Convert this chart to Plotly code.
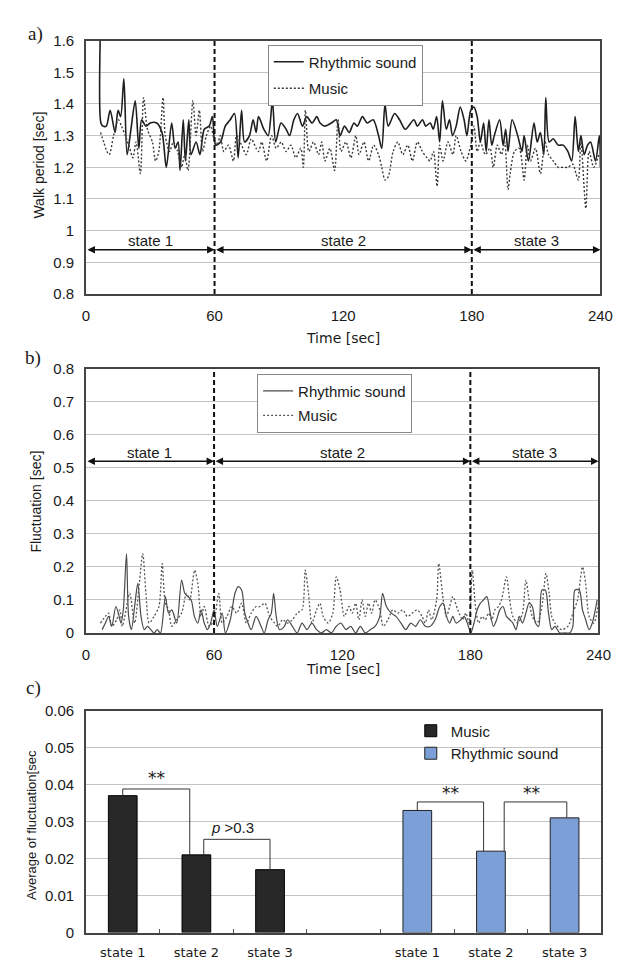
import plotly.graph_objects as go

# ---------------- data ----------------
series_names = ["Rhythmic sound", "Music"]
states = ["state 1", "state 2", "state 3"]
state_bounds = [0, 60, 180, 240]

# a) walk period [sec]
walk_rhythm_t = [6.7, 7.0, 8.0, 9.5, 11.3, 13.6, 15.0, 16.2, 17.7, 19.2, 21.0, 23.0, 24.7, 26.0, 28.0, 30.0, 33.0, 35.5, 37.5, 40.0,
                 41.6, 43.0, 43.9, 45.4, 46.4, 48.0, 49.0, 51.4, 53.2, 55.2, 57.5, 59.0, 60.5, 62.8, 65.0, 67.3, 69.3, 71.0, 72.6, 74.0,
                 76.3, 78.0, 79.4, 80.5, 83.0, 85.0, 87.0, 88.5, 91.0, 93.4, 95.0, 97.0, 98.7, 101.0, 103.0, 105.5, 107.7, 109.2, 111.5, 114.5,
                 116.8, 118.6, 120.6, 122.8, 125.0, 126.6, 129.0, 131.2, 134.0, 136.5, 138.0, 139.5, 141.0, 144.0, 146.3, 149.0, 153.0, 154.6, 157.0, 158.5,
                 160.6, 162.0, 163.6, 165.0, 166.3, 168.1, 169.6, 171.0, 172.7, 174.6, 176.4, 177.7, 179.5, 181.0, 182.5, 184.0, 185.5, 186.7, 188.0, 189.3,
                 190.5, 193.0, 194.6, 195.8, 196.9, 198.8, 201.4, 203.4, 204.4, 206.4, 209.0, 210.5, 212.0, 213.6, 214.5, 216.1, 218.0, 220.3, 222.6, 224.8,
                 226.6, 228.2, 229.7, 230.9, 232.4, 234.0, 235.4, 237.7, 239.5, 240.0]
walk_rhythm_v = [1.62, 1.34, 1.33, 1.33, 1.38, 1.31, 1.38, 1.36, 1.48, 1.24, 1.32, 1.41, 1.26, 1.35, 1.33, 1.34, 1.34, 1.31, 1.20, 1.34,
                 1.26, 1.28, 1.19, 1.35, 1.22, 1.35, 1.24, 1.28, 1.24, 1.32, 1.33, 1.36, 1.27, 1.28, 1.33, 1.35, 1.37, 1.23, 1.38, 1.28,
                 1.30, 1.35, 1.31, 1.36, 1.32, 1.30, 1.41, 1.28, 1.34, 1.32, 1.30, 1.35, 1.37, 1.33, 1.36, 1.34, 1.36, 1.34, 1.33, 1.34,
                 1.35, 1.30, 1.33, 1.31, 1.34, 1.33, 1.36, 1.34, 1.35, 1.30, 1.26, 1.40, 1.33, 1.37, 1.35, 1.32, 1.35, 1.33, 1.35, 1.33,
                 1.34, 1.32, 1.36, 1.28, 1.41, 1.32, 1.35, 1.30, 1.33, 1.39, 1.35, 1.30, 1.38, 1.39, 1.36, 1.28, 1.34, 1.25, 1.35, 1.27,
                 1.30, 1.35, 1.27, 1.32, 1.25, 1.35, 1.30, 1.25, 1.30, 1.22, 1.34, 1.28, 1.31, 1.24, 1.42, 1.28, 1.29, 1.27, 1.27, 1.25,
                 1.22, 1.36, 1.25, 1.30, 1.24, 1.27, 1.28, 1.22, 1.30, 1.20]

walk_music_t = [6.8, 8.3, 9.8, 10.9, 12.9, 15.1, 16.6, 18.4, 20.4, 21.9, 23.4, 25.4, 26.9, 28.7, 31.0, 32.5, 34.0, 36.0, 37.0, 39.0,
                40.8, 42.8, 44.6, 46.1, 47.6, 49.9, 51.4, 52.9, 54.4, 56.2, 58.2, 59.7, 61.2, 62.7, 64.3, 66.5, 68.8, 70.3, 72.6, 74.8,
                77.1, 79.4, 80.5, 82.0, 84.3, 86.6, 88.8, 91.1, 93.4, 95.6, 97.9, 100.2, 101.4, 102.4, 104.0, 106.2, 108.5, 110.0, 111.5, 113.8,
                116.0, 117.6, 119.0, 121.3, 123.6, 125.9, 127.4, 129.7, 131.9, 134.2, 136.5, 138.0, 139.5, 141.0, 143.3, 145.5, 147.8, 150.1, 152.3, 154.6,
                156.9, 159.1, 160.5, 162.1, 163.8, 165.0, 166.6, 168.9, 171.2, 172.7, 175.0, 177.2, 179.5, 181.0, 182.5, 184.0, 186.3, 188.5, 190.0, 191.9,
                193.8, 195.3, 196.9, 197.9, 199.9, 202.1, 204.4, 205.9, 207.4, 209.7, 212.0, 214.2, 215.8, 218.0, 220.3, 222.6, 224.8, 227.1, 228.6, 229.7,
                230.9, 233.2, 234.7, 236.9, 239.2]
walk_music_v = [1.31, 1.28, 1.25, 1.24, 1.30, 1.35, 1.33, 1.30, 1.26, 1.23, 1.28, 1.18, 1.42, 1.32, 1.28, 1.22, 1.25, 1.42, 1.30, 1.25,
                1.28, 1.25, 1.20, 1.24, 1.19, 1.41, 1.30, 1.38, 1.25, 1.30, 1.33, 1.29, 1.27, 1.30, 1.25, 1.27, 1.22, 1.30, 1.27, 1.24,
                1.29, 1.26, 1.25, 1.28, 1.22, 1.30, 1.26, 1.28, 1.25, 1.27, 1.23, 1.26, 1.20, 1.38, 1.25, 1.28, 1.24, 1.28, 1.22, 1.26,
                1.19, 1.35, 1.25, 1.28, 1.23, 1.30, 1.24, 1.28, 1.22, 1.27, 1.24, 1.20, 1.16, 1.17, 1.25, 1.28, 1.24, 1.27, 1.22, 1.28,
                1.25, 1.23, 1.22, 1.25, 1.14, 1.27, 1.22, 1.28, 1.24, 1.30, 1.25, 1.22, 1.27, 1.33, 1.25, 1.28, 1.24, 1.26, 1.20, 1.27,
                1.24, 1.28, 1.13, 1.18, 1.25, 1.26, 1.16, 1.27, 1.22, 1.26, 1.18, 1.28, 1.24, 1.22, 1.20, 1.20, 1.20, 1.21, 1.18, 1.16,
                1.28, 1.07, 1.25, 1.20, 1.24]

# b) fluctuation [sec]
fluc_rhythm_t = [7.6, 9.1, 10.6, 12.1, 14.0, 15.2, 16.4, 17.5, 19.0, 20.0, 21.3, 22.8, 24.3, 25.8, 27.3, 28.8, 30.4, 31.9, 33.4, 34.9,
                 37.2, 38.7, 40.2, 42.5, 44.8, 46.3, 47.8, 49.3, 50.8, 52.4, 53.9, 55.4, 56.9, 58.4, 60.0, 61.5, 63.8, 65.3, 67.6, 69.8,
                 71.3, 72.9, 74.4, 75.9, 77.4, 79.7, 82.0, 83.5, 85.3, 86.8, 87.9, 89.1, 90.6, 92.9, 94.4, 96.7, 98.9, 101.2, 103.5, 105.8,
                 108.0, 110.3, 112.6, 114.9, 117.2, 119.4, 121.7, 124.0, 126.3, 128.5, 130.8, 133.1, 135.4, 137.6, 138.9, 140.7, 143.0, 145.2, 147.5, 149.8,
                 152.1, 154.3, 156.6, 158.9, 161.2, 163.5, 165.7, 167.3, 168.8, 170.3, 171.8, 173.3, 175.6, 177.1, 178.6, 180.2, 181.7, 183.2, 184.7, 186.2,
                 187.7, 189.3, 190.8, 192.3, 193.8, 195.3, 196.9, 198.4, 199.9, 201.4, 202.9, 204.4, 206.0, 207.5, 209.0, 210.5, 212.0, 213.5, 215.1, 216.6,
                 218.1, 219.6, 221.9, 224.2, 226.5, 228.0, 229.0, 231.0, 232.5, 234.0, 235.6, 237.1, 239.4]
fluc_rhythm_v = [0.01, 0.03, 0.05, 0.02, 0.08, 0.06, 0.03, 0.07, 0.24, 0.05, 0.01, 0.08, 0.15, 0.05, 0.01, 0.02, 0.01, 0.00, 0.01, 0.00,
                 0.11, 0.06, 0.07, 0.03, 0.16, 0.12, 0.11, 0.10, 0.05, 0.03, 0.07, 0.03, 0.01, 0.03, 0.07, 0.02, 0.06, 0.00, 0.04, 0.12,
                 0.14, 0.13, 0.06, 0.03, 0.01, 0.05, 0.02, 0.00, 0.04, 0.06, 0.12, 0.05, 0.01, 0.02, 0.04, 0.02, 0.00, 0.03, 0.01, 0.03,
                 0.01, 0.00, 0.01, 0.00, 0.02, 0.03, 0.01, 0.02, 0.00, 0.02, 0.00, 0.01, 0.02, 0.05, 0.12, 0.08, 0.06, 0.05, 0.03, 0.01,
                 0.03, 0.02, 0.04, 0.02, 0.02, 0.04, 0.08, 0.09, 0.05, 0.03, 0.05, 0.03, 0.04, 0.05, 0.03, 0.00, 0.03, 0.07, 0.09, 0.10,
                 0.11, 0.06, 0.02, 0.04, 0.07, 0.08, 0.05, 0.04, 0.03, 0.01, 0.05, 0.03, 0.06, 0.09, 0.08, 0.03, 0.02, 0.13, 0.13, 0.06,
                 0.01, 0.02, 0.00, 0.00, 0.00, 0.02, 0.13, 0.13, 0.07, 0.04, 0.01, 0.03, 0.10]

fluc_music_t = [6.8, 9.1, 10.6, 12.1, 14.4, 15.9, 17.0, 18.2, 20.5, 22.8, 25.0, 26.6, 28.1, 29.6, 31.9, 34.2, 35.7, 37.2, 38.7, 40.2,
                42.5, 44.8, 47.1, 48.6, 50.9, 52.4, 53.9, 55.4, 57.7, 60.0, 62.2, 63.8, 66.0, 68.3, 70.6, 72.9, 75.1, 77.4, 79.7, 81.5,
                83.8, 86.0, 88.3, 89.8, 92.1, 94.4, 96.7, 98.9, 101.2, 102.7, 104.2, 105.8, 108.0, 109.6, 111.1, 113.4, 115.6, 117.2, 119.0, 121.0,
                123.2, 124.7, 126.3, 127.8, 129.3, 130.8, 132.3, 133.8, 135.4, 137.6, 139.2, 141.4, 143.7, 146.0, 148.3, 150.5, 152.8, 155.1, 157.4, 158.9,
                160.4, 161.9, 164.2, 165.2, 167.3, 168.8, 170.3, 171.8, 174.1, 176.4, 177.9, 179.4, 180.9, 182.4, 183.9, 185.5, 187.0, 188.5, 190.0, 191.5,
                193.1, 194.6, 196.9, 198.4, 199.9, 202.2, 204.4, 206.0, 207.5, 209.0, 211.3, 213.5, 215.4, 216.9, 218.1, 219.6, 222.7, 225.7, 228.0, 230.2,
                232.5, 234.0, 235.6, 237.8, 240.0]
fluc_music_v = [0.03, 0.05, 0.06, 0.02, 0.04, 0.07, 0.02, 0.05, 0.12, 0.03, 0.15, 0.24, 0.12, 0.03, 0.05, 0.08, 0.21, 0.09, 0.07, 0.02,
                0.04, 0.06, 0.12, 0.10, 0.19, 0.15, 0.05, 0.08, 0.02, 0.04, 0.12, 0.03, 0.05, 0.08, 0.06, 0.09, 0.03, 0.06, 0.08, 0.08,
                0.09, 0.05, 0.03, 0.02, 0.04, 0.03, 0.04, 0.06, 0.07, 0.19, 0.12, 0.03, 0.07, 0.09, 0.05, 0.03, 0.06, 0.17, 0.13, 0.05,
                0.08, 0.06, 0.09, 0.04, 0.10, 0.05, 0.09, 0.06, 0.10, 0.07, 0.02, 0.04, 0.07, 0.06, 0.07, 0.05, 0.06, 0.07, 0.05, 0.03,
                0.07, 0.04, 0.10, 0.21, 0.10, 0.05, 0.08, 0.11, 0.07, 0.04, 0.06, 0.03, 0.19, 0.08, 0.03, 0.05, 0.04, 0.06, 0.04, 0.07,
                0.08, 0.10, 0.17, 0.10, 0.05, 0.03, 0.06, 0.16, 0.10, 0.05, 0.03, 0.08, 0.18, 0.12, 0.05, 0.03, 0.01, 0.02, 0.06, 0.10,
                0.20, 0.15, 0.05, 0.03, 0.09]

# c) average of fluctuation [sec]
bar_names = ["Music", "Rhythmic sound"]
music_avg = [0.037, 0.021, 0.017]
rhythm_avg = [0.033, 0.022, 0.031]
# significance brackets: (x_left, x_right, y_top, y_left_end, y_right_end, label, label_x, label_y)
brackets = [
    (0.0, 0.91, 0.0388, 0.037, 0.021, "**", 0.46, 0.0418),
    (1.1, 2.0, 0.0252, 0.021, 0.017, "<i>p</i> >0.3", 1.49, 0.0284),
    (4.0, 4.9, 0.0353, 0.033, 0.022, "**", 4.45, 0.0378),
    (5.18, 6.03, 0.0353, 0.022, 0.031, "**", 5.55, 0.0378),
]

walk_ticks = [0.8, 0.9, 1.0, 1.1, 1.2, 1.3, 1.4, 1.5, 1.6]
walk_ticktext = ["0.8", "0.9", "1", "1.1", "1.2", "1.3", "1.4", "1.5", "1.6"]
fluc_ticks = [0, 0.1, 0.2, 0.3, 0.4, 0.5, 0.6, 0.7, 0.8]
fluc_ticktext = ["0", "0.1", "0.2", "0.3", "0.4", "0.5", "0.6", "0.7", "0.8"]
avg_ticks = [0, 0.01, 0.02, 0.03, 0.04, 0.05, 0.06]
avg_ticktext = ["0", "0.01", "0.02", "0.03", "0.04", "0.05", "0.06"]
time_ticks = [0, 60, 120, 180, 240]

# ---------------- figure ----------------
FW, FH = 621, 964
FONT = "Liberation Sans"
TXT = "#1a1a1a"


def fx(x):
    """pixel x -> paper fraction"""
    return x / FW


def fy(y):
    """pixel y (from top) -> paper fraction"""
    return 1 - y / FH


fig = go.Figure()

# panel a
fig.add_trace(go.Scatter(x=walk_rhythm_t, y=walk_rhythm_v, xaxis="x", yaxis="y", mode="lines",
                         name=series_names[0], legend="legend", legendgroup="a1",
                         line=dict(color="#1e1e1e", width=1.6, shape="spline", smoothing=0.8)))
fig.add_trace(go.Scatter(x=walk_music_t, y=walk_music_v, xaxis="x", yaxis="y", mode="lines",
                         name=series_names[1], legend="legend", legendgroup="a2",
                         line=dict(color="#3a3a3a", width=1.4, dash="2px,2px", shape="spline", smoothing=0.8)))
# panel b
fig.add_trace(go.Scatter(x=fluc_rhythm_t, y=fluc_rhythm_v, xaxis="x2", yaxis="y2", mode="lines",
                         name=series_names[0], legend="legend2", legendgroup="b1",
                         line=dict(color="#4a4a4a", width=1.2, shape="spline", smoothing=0.8)))
fig.add_trace(go.Scatter(x=fluc_music_t, y=fluc_music_v, xaxis="x2", yaxis="y2", mode="lines",
                         name=series_names[1], legend="legend2", legendgroup="b2",
                         line=dict(color="#555555", width=1.3, dash="2px,2px", shape="spline", smoothing=0.8)))
# panel c
music_x = list(range(len(music_avg)))
rhythm_x = [len(music_avg) + 1 + i for i in range(len(rhythm_avg))]
fig.add_trace(go.Bar(x=music_x, y=music_avg, xaxis="x3", yaxis="y3", width=0.39, name=bar_names[0],
                     legend="legend3", legendgroup="c1",
                     marker=dict(color="#282828", line=dict(color="#000000", width=1))))
fig.add_trace(go.Bar(x=rhythm_x, y=rhythm_avg, xaxis="x3", yaxis="y3", width=0.39, name=bar_names[1],
                     legend="legend3", legendgroup="c2",
                     marker=dict(color="#7c9fd7", line=dict(color="#222222", width=1))))

axis_common = dict(showline=True, mirror=True, linecolor="#444444", linewidth=1.5, zeroline=False,
                   ticks="", ticklabeloverflow="allow", tickfont=dict(family=FONT, size=15, color=TXT))

fig.update_layout(
    width=FW, height=FH, margin=dict(l=0, r=0, t=0, b=0),
    paper_bgcolor="white", plot_bgcolor="white", barmode="overlay",
    font=dict(family=FONT, color=TXT),
    xaxis=dict(domain=[fx(76), fx(605)], range=[0, 240], tickvals=time_ticks, showgrid=False, anchor="y",
               ticklabelstandoff=7, **axis_common),
    yaxis=dict(domain=[fy(282), fy(24)], range=[0.8, 1.6], tickvals=walk_ticks, ticktext=walk_ticktext,
               showgrid=True, gridcolor="#c4c4c4", gridwidth=1, anchor="x", ticklabelstandoff=7, **axis_common),
    xaxis2=dict(domain=[fx(76), fx(603)], range=[0, 240], tickvals=time_ticks, showgrid=False, anchor="y2",
                ticklabelstandoff=7, **axis_common),
    yaxis2=dict(domain=[fy(627), fy(358)], range=[0, 0.8], tickvals=fluc_ticks, ticktext=fluc_ticktext,
                showgrid=True, gridcolor="#c4c4c4", gridwidth=1, anchor="x2", ticklabelstandoff=7, **axis_common),
    xaxis3=dict(domain=[fx(76), fx(606)], range=[-0.5, 6.5], tickvals=music_x + rhythm_x, ticktext=states + states,
                showgrid=False, anchor="y3", ticklabelstandoff=7,
                minor=dict(tickvals=[i + 0.5 for i in range(6)], ticks="inside", ticklen=4,
                           tickcolor="#555555", showgrid=False),
                **{**axis_common, "tickfont": dict(family="DejaVu Sans", size=13, color=TXT)}),
    yaxis3=dict(domain=[fy(932), fy(706)], range=[0, 0.06], tickvals=avg_ticks, ticktext=avg_ticktext,
                showgrid=True, gridcolor="#c4c4c4", gridwidth=1, anchor="x3", ticklabelstandoff=7, **axis_common),
    legend=dict(x=fx(263), y=fy(28), xanchor="left", yanchor="top", bgcolor="white",
                bordercolor="#888888", borderwidth=1, font=dict(family=FONT, size=15, color=TXT),
                tracegroupgap=4),
    legend2=dict(x=fx(252), y=fy(363), xanchor="left", yanchor="top", bgcolor="white",
                 bordercolor="#888888", borderwidth=1, font=dict(family=FONT, size=15, color=TXT),
                 tracegroupgap=2),
    legend3=dict(x=fx(410), y=fy(710), xanchor="left", yanchor="top", bgcolor="rgba(0,0,0,0)",
                 borderwidth=0, font=dict(family=FONT, size=15, color=TXT), tracegroupgap=0),
)

shapes = []
annotations = []

# dashed state boundaries and state arrows for panels a and b
for xr, yr, arrow_y, label_y in [("x", "y", 0.94, 0.968), ("x2", "y2", 0.52, 0.547)]:
    for b in state_bounds[1:-1]:
        shapes.append(dict(type="line", xref=xr, yref=yr + " domain", x0=b, x1=b, y0=0, y1=1,
                           line=dict(color="#111111", width=2, dash="5px,3px")))
    for i, name in enumerate(states):
        x0, x1 = state_bounds[i], state_bounds[i + 1]
        annotations.append(dict(xref=xr, yref=yr, axref=xr, ayref=yr, x=x1, y=arrow_y, ax=x0, ay=arrow_y,
                                text="", showarrow=True, arrowhead=2, arrowside="end+start",
                                arrowsize=1, arrowwidth=1.5, arrowcolor="#111111"))
        annotations.append(dict(xref=xr, yref=yr, x=(x0 + x1) / 2, y=label_y, text=name, showarrow=False,
                                font=dict(family=FONT, size=15, color=TXT)))

# significance brackets in panel c
for xl, xrr, yt, yl, yrr, lab, lx, ly in brackets:
    shapes.append(dict(type="path", xref="x3", yref="y3",
                       path=f"M {xl},{yl} L {xl},{yt} L {xrr},{yt} L {xrr},{yrr}",
                       line=dict(color="#333333", width=1)))
    star = lab == "**"
    annotations.append(dict(xref="x3", yref="y3", x=lx, y=ly, text=lab, showarrow=False,
                            font=dict(family="DejaVu Sans" if star else FONT, size=17 if star else 15,
                                      color=TXT)))


# axis titles and panel labels
def ptext(x, y, text, size=14, angle=0, family=FONT):
    annotations.append(dict(xref="paper", yref="paper", x=fx(x), y=fy(y), text=text, showarrow=False,
                            textangle=angle, xanchor="center", yanchor="middle",
                            font=dict(family=family, size=size, color=TXT)))


ptext(28, 151, "Walk period [sec]", 14, -90)
ptext(340, 327, "Time [sec]", 14, 0, "DejaVu Sans")
ptext(25, 493, "Fluctuation [sec]", 14, -90)
ptext(340, 664, "Time [sec]", 14, 0, "DejaVu Sans")
ptext(20, 822, "Average of fluctuation[sec", 13, -90)
ptext(24, 17, "a)", 19, 0, "Liberation Serif")
ptext(22, 347, "b)", 19, 0, "Liberation Serif")
ptext(22, 683, "c)", 19, 0, "Liberation Serif")

fig.update_layout(shapes=shapes, annotations=annotations)
fig.write_html("out.html")
